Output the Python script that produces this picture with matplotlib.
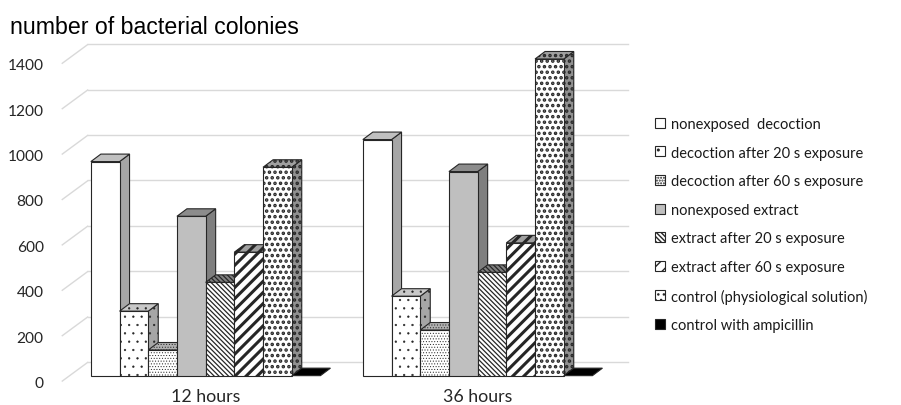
import matplotlib
matplotlib.use("Agg")
import matplotlib.pyplot as plt
from matplotlib.patches import Polygon, Patch

# ---------------- data ----------------
groups = ["12 hours", "36 hours"]
series = [
    "nonexposed  decoction",
    "decoction after 20 s exposure",
    "decoction after 60 s exposure",
    "nonexposed extract",
    "extract after 20 s exposure",
    "extract after 60 s exposure",
    "control (physiological solution)",
    "control with ampicillin",
]
values_12h = [943, 284, 113, 702, 411, 544, 918, 0]
values_36h = [1040, 350, 201, 899, 455, 585, 1395, 0]
y_ticks = [0, 200, 400, 600, 800, 1000, 1200, 1400]
title = "number of bacterial colonies"

# ---------------- styles ----------------
# (front colour, top colour, side colour, hatch, hatch linewidth)
styles = [
    ("#ffffff", "#c0c0c0", "#a6a6a6", None, 0.6),
    ("#ffffff", "#c8c8c8", "#a6a6a6", "..", 0.4),
    ("#ffffff", "#b0b0b0", "#909090", "......", 0.4),
    ("#bfbfbf", "#8c8c8c", "#7f7f7f", None, 0.6),
    ("#ffffff", "#808080", "#707070", "\\\\\\\\\\\\\\", 0.9),
    ("#ffffff", "#a0a0a0", "#808080", "///", 2.2),
    ("#ffffff", "#a0a0a0", "#909090", "...", 1.7),
    ("#000000", "#000000", "#000000", None, 0.6),
]

W, H, DPI = 901, 406, 100
PX_X = 272.0            # pixels per group unit
PX_Y = 45.4 / 200.0     # pixels per value unit
AX_LEFT, AX_BOTTOM = 61.7, 382.5   # pixel position of front floor origin (from top)
XMIN, XMAX = -0.5, 1.62
YMAX = 1510

# depth geometry (pixels -> data units)
WALL_DX, WALL_DY = 26.5 / PX_X, 19.5 / PX_Y
FRONT_FRAC = 0.30
BAR_DX, BAR_DY = 10.0 / PX_X, 7.5 / PX_Y
BAR_W = 28.7 / PX_X
GRID_COLOR = "#d9d9d9"

plt.rcParams["font.family"] = ["Lato", "DejaVu Sans"]
fig = plt.figure(figsize=(W / DPI, H / DPI), dpi=DPI)
ax_w = (XMAX - XMIN) * PX_X
ax_h = YMAX * PX_Y
ax = fig.add_axes([AX_LEFT / W, (H - AX_BOTTOM) / H, ax_w / W, ax_h / H])
ax.set_xlim(XMIN, XMAX)
ax.set_ylim(0, YMAX)
for s in ax.spines.values():
    s.set_visible(False)
ax.patch.set_alpha(0)

# walls: side wall diagonals + back wall gridlines
for v in y_ticks:
    ax.plot([XMIN, XMIN + WALL_DX], [v, v + WALL_DY], color=GRID_COLOR, lw=1.0,
            zorder=1, clip_on=False, solid_capstyle="butt")
    ax.plot([XMIN + WALL_DX, 1.5 + WALL_DX - 0.015], [v + WALL_DY, v + WALL_DY],
            color=GRID_COLOR, lw=1.0, zorder=1, clip_on=False)

fx = FRONT_FRAC * WALL_DX
fy = FRONT_FRAC * WALL_DY
n = len(series)


def add_poly(pts, fc, hatch, hlw, z):
    p = Polygon(pts, closed=True, facecolor=fc, edgecolor="#262626", lw=0.8,
                hatch=hatch, zorder=z, clip_on=False, joinstyle="miter")
    try:
        p.set_hatch_linewidth(hlw)
    except AttributeError:
        pass
    ax.add_patch(p)


z = 2
for g, vals in enumerate([values_12h, values_36h]):
    for i, v in enumerate(vals):
        fc, tc, sc, hatch, hlw = styles[i]
        x0 = g + (i - n / 2) * BAR_W + fx
        x1 = x0 + BAR_W
        y0 = fy
        y1 = fy + v
        # side face
        if v > 0:
            add_poly([(x1, y0), (x1 + BAR_DX, y0 + BAR_DY), (x1 + BAR_DX, y1 + BAR_DY), (x1, y1)],
                     sc, hatch, hlw, z)
        # top face
        add_poly([(x0, y1), (x0 + BAR_DX, y1 + BAR_DY), (x1 + BAR_DX, y1 + BAR_DY), (x1, y1)],
                 tc, hatch, hlw, z)
        # front face
        if v > 0:
            bars = ax.bar([x0], [v], width=BAR_W, bottom=y0, align="edge", color=fc,
                          edgecolor="#262626", lw=0.8, hatch=hatch, zorder=z, clip_on=False)
            for b in bars:
                try:
                    b.set_hatch_linewidth(hlw)
                except AttributeError:
                    pass
        z += 1

# axes ticks / labels
ax.set_yticks(y_ticks)
ax.set_yticklabels([str(t) for t in y_ticks], fontsize=11.2, color="#262626")
ax.tick_params(axis="y", length=0, pad=13)
ax.set_xticks([g + fx for g in range(len(groups))])
ax.set_xticklabels(groups, fontsize=12.8, color="#262626")
ax.tick_params(axis="x", length=0, pad=5)

fig.text(10 / W, (H - 34) / H, title, fontsize=16.7, family=["Liberation Sans", "DejaVu Sans"],
         va="baseline", ha="left", color="#000000")

# legend
handles = []
for i, name in enumerate(series):
    fc, tc, sc, hatch, hlw = styles[i]
    handles.append(Patch(facecolor=fc, edgecolor="#262626", lw=0.8, hatch=hatch, label=name))
leg = fig.legend(handles=handles, loc="upper left", bbox_to_anchor=(655 / W, (H - 118) / H),
                 frameon=False, fontsize=10.5, handlelength=0.68, handleheight=0.68,
                 handletextpad=0.45, labelspacing=1.0, borderaxespad=0, borderpad=0)
for t in leg.get_texts():
    t.set_color("#1a1a1a")

fig.savefig("out.png", dpi=DPI)
